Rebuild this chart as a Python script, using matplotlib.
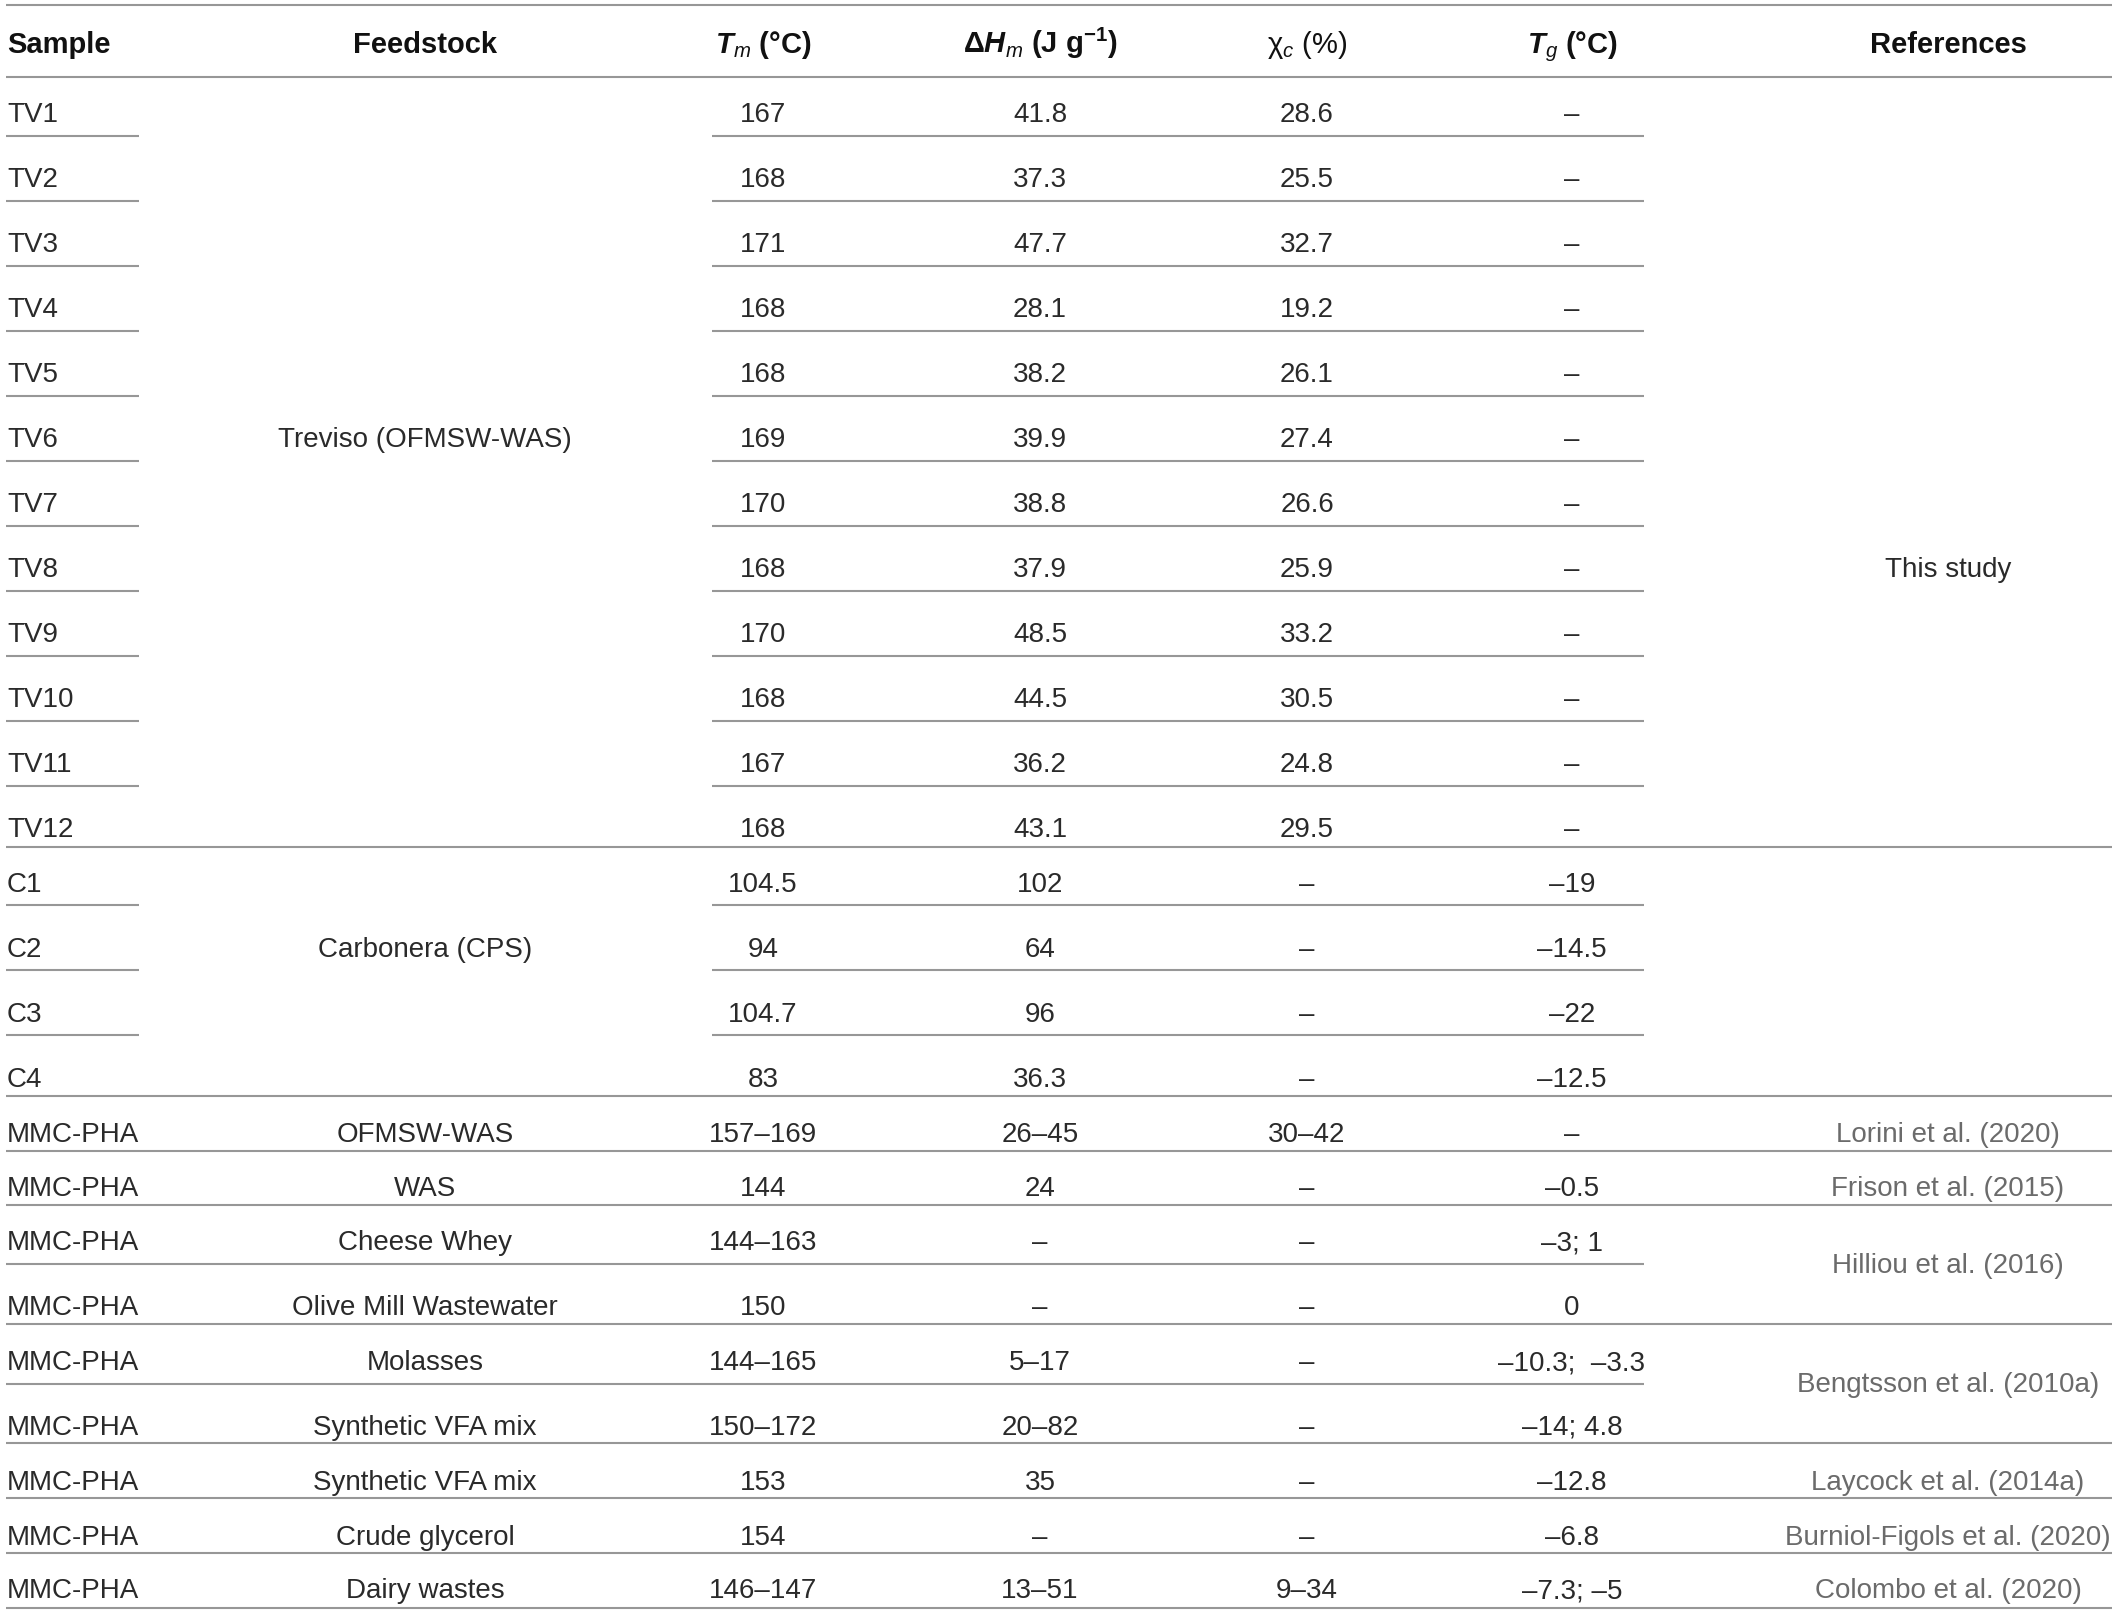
import matplotlib
matplotlib.use("Agg")
import matplotlib.pyplot as plt

# ── Table content ─────────────────────────────────────────────────────────────

SAMPLES = [f"TV{i}" for i in range(1, 13)] + ["C1", "C2", "C3", "C4"] + ["MMC-PHA"] * 9

TM = ["167", "168", "171", "168", "168", "169", "170", "168", "170", "168", "167", "168",
      "104.5", "94", "104.7", "83",
      "157–169", "144", "144–163", "150", "144–165", "150–172", "153", "154", "146–147"]

DHM = ["41.8", "37.3", "47.7", "28.1", "38.2", "39.9", "38.8", "37.9", "48.5", "44.5", "36.2", "43.1",
       "102", "64", "96", "36.3",
       "26–45", "24", "–", "–", "5–17", "20–82", "35", "–", "13–51"]

CHI = ["28.6", "25.5", "32.7", "19.2", "26.1", "27.4", "26.6", "25.9", "33.2", "30.5", "24.8", "29.5",
       "–", "–", "–", "–",
       "30–42", "–", "–", "–", "–", "–", "–", "–", "9–34"]

TG = ["–"] * 12 + ["–19", "–14.5", "–22", "–12.5",
                   "–", "–0.5", "–3; 1", "0", "–10.3;  –3.3", "–14; 4.8", "–12.8", "–6.8", "–7.3; –5"]

FEEDSTOCK = ["Treviso (OFMSW-WAS)", "Carbonera (CPS)", "OFMSW-WAS", "WAS", "Cheese Whey",
             "Olive Mill Wastewater", "Molasses", "Synthetic VFA mix", "Synthetic VFA mix",
             "Crude glycerol", "Dairy wastes"]
FEEDSTOCK_ROWS = [5, 13, 16, 17, 18, 19, 20, 21, 22, 23, 24]

REFERENCES = ["This study", "Lorini et al. (2020)", "Frison et al. (2015)", "Hilliou et al. (2016)",
              "Bengtsson et al. (2010a)", "Laycock et al. (2014a)",
              "Burniol-Figols et al. (2020)", "Colombo et al. (2020)"]

# ── Layout (pixel coordinates, y downwards) ──────────────────────────────────

W, H = 2118, 1613
TEXT_Y = [112, 177, 242, 307, 372, 437, 502, 567, 632, 697, 762, 827,
          882, 947, 1012, 1077,
          1132, 1186, 1240, 1305, 1360, 1425, 1480, 1535, 1588]
LINE_Y = [136, 201, 266, 331, 396, 461, 526, 591, 656, 721, 786, 847,
          905, 970, 1035, 1096,
          1151, 1205, 1264, 1324, 1384, 1443, 1498, 1553, 1608]
LINE_KIND = ["short"] * 11 + ["full"] + ["short"] * 3 + ["full"] + \
            ["full", "full", "partial", "full", "partial", "full", "full", "full", "full"]
REF_Y = [567, 1132, 1186, 1263, 1382, 1480, 1535, 1588]

X_SAMPLE = 7
X_FEED, X_TM, X_DHM, X_CHI, X_TG, X_REF = 425, 763, 1040, 1307, 1572, 1948
X_LEFT, X_RIGHT = 6, 2112
SPANS = {
    "full":    [(X_LEFT, X_RIGHT)],
    "partial": [(X_LEFT, 1644)],
    "short":   [(X_LEFT, 139), (712, 1644)],
}

FS = 20
FS_HEAD = 21
TXT = "#2a2a2a"
REF_C = "#6b6b6b"
RULE = "#979797"
CAP = 10  # half cap-height in px: visual centre -> baseline

plt.rcParams.update({
    "font.family": ["Liberation Sans", "DejaVu Sans"],
    "mathtext.fontset": "custom",
    "mathtext.rm": "Liberation Sans",
    "mathtext.it": "Liberation Sans:italic",
    "mathtext.bf": "Liberation Sans:bold",
    "mathtext.bfit": "Liberation Sans:italic:bold",
})

fig = plt.figure(figsize=(W / 100, H / 100), dpi=100)
ax = fig.add_axes([0, 0, 1, 1])
ax.set_xlim(0, W)
ax.set_ylim(H, 0)
ax.axis("off")


def rule(y, x0, x1):
    ax.plot([x0, x1], [y, y], color=RULE, lw=1.5, solid_capstyle="butt")


def put(x, y, s, ha="center", color=TXT, size=FS, **kw):
    ax.text(x, y + CAP, s, ha=ha, va="baseline", fontsize=size, color=color, **kw)


# header
rule(5, X_LEFT, X_RIGHT)
rule(77, X_LEFT, X_RIGHT)
hy = 43
hk = dict(size=FS_HEAD, color="#111111")
put(X_SAMPLE, hy, "Sample", ha="left", fontweight="bold", **hk)
put(X_FEED, hy, "Feedstock", fontweight="bold", **hk)
put(X_TM, hy, r"$\mathbfit{T}_{\mathit{m}}$ (°C)", fontweight="bold", **hk)
put(X_DHM, hy, r"Δ$\mathbfit{H}_{\mathit{m}}$ (J g$^{\mathbf{-1}}$)", fontweight="bold", **hk)
put(X_CHI, hy, r"χ$_{\mathit{c}}$ (%)", **hk)
put(X_TG, hy, r"$\mathbfit{T}_{\mathit{g}}$ (°C)", fontweight="bold", **hk)
put(X_REF, hy, "References", fontweight="bold", **hk)

# body
for i, y in enumerate(TEXT_Y):
    put(X_SAMPLE, y, SAMPLES[i], ha="left")
    put(X_TM, y, TM[i])
    put(X_DHM, y, DHM[i])
    put(X_CHI, y, CHI[i])
    put(X_TG, y, TG[i])
    for x0, x1 in SPANS[LINE_KIND[i]]:
        rule(LINE_Y[i], x0, x1)

for label, r in zip(FEEDSTOCK, FEEDSTOCK_ROWS):
    put(X_FEED, TEXT_Y[r], label)

for label, y in zip(REFERENCES, REF_Y):
    put(X_REF, y, label, color=TXT if label == "This study" else REF_C)

fig.savefig("out.png", dpi=100)
